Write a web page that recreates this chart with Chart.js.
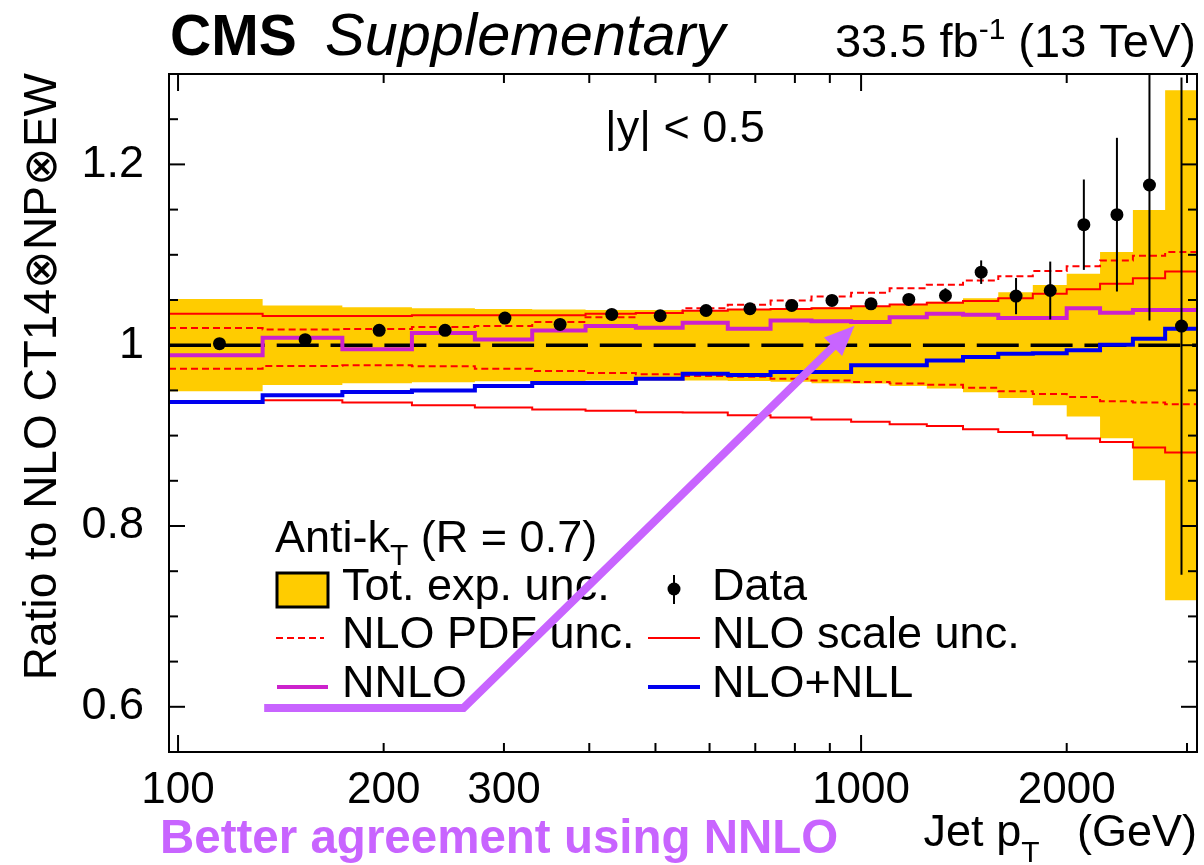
<!DOCTYPE html>
<html>
<head>
<meta charset="utf-8">
<title>Ratio to NLO CT14 - inclusive jets</title>
<script src="https://cdn.jsdelivr.net/npm/chart.js@4.4.1/dist/chart.umd.min.js"></script>
<style>
  html, body { margin: 0; padding: 0; background: #fff; }
  #wrap { width: 1204px; height: 865px; position: relative; }
</style>
</head>
<body>
<div id="wrap"><canvas id="ratioChart"></canvas></div>
<script>
// jet pT bins (GeV), one value per bin for every theory curve
var binEdges = [97, 133, 174, 220, 272, 330, 395, 468, 548, 638, 737, 846, 967, 1101, 1248, 1410, 1588, 1784, 2000, 2238, 2500, 2787, 3103];

var totExpUnc = [0.051, 0.044, 0.042, 0.041, 0.040, 0.0395, 0.039, 0.039, 0.039, 0.0395, 0.0405, 0.042, 0.0425, 0.045, 0.048, 0.052, 0.0585, 0.0665, 0.079, 0.103, 0.1495, 0.282];
var pdfUp = [1.019, 1.0175, 1.018, 1.020, 1.0212, 1.0256, 1.031, 1.0355, 1.041, 1.0447, 1.0495, 1.054, 1.058, 1.063, 1.067, 1.0715, 1.0764, 1.082, 1.0874, 1.0936, 1.099, 1.103];
var pdfDown = [0.974, 0.977, 0.9777, 0.9766, 0.974, 0.9715, 0.9693, 0.9678, 0.966, 0.965, 0.963, 0.961, 0.9594, 0.9575, 0.9562, 0.9528, 0.949, 0.946, 0.9428, 0.938, 0.9365, 0.9347];
var scaleUp = [1.0348, 1.0322, 1.0322, 1.033, 1.033, 1.033, 1.0348, 1.0355, 1.038, 1.0395, 1.040, 1.041, 1.043, 1.045, 1.047, 1.049, 1.052, 1.057, 1.062, 1.068, 1.074, 1.0815];
var scaleDown = [0.937, 0.939, 0.9365, 0.9336, 0.931, 0.9288, 0.9274, 0.9258, 0.9255, 0.9225, 0.920, 0.9178, 0.9152, 0.9126, 0.9106, 0.907, 0.904, 0.9005, 0.8968, 0.893, 0.8869, 0.8813];
var nnlo = [0.9888, 1.0083, 0.9954, 1.0136, 1.0064, 1.0163, 1.0212, 1.0192, 1.0248, 1.0182, 1.0274, 1.0265, 1.0256, 1.031, 1.0348, 1.0337, 1.030, 1.030, 1.041, 1.0359, 1.039, 1.039];
var nloNll = [0.9373, 0.9446, 0.9483, 0.950, 0.955, 0.9583, 0.9583, 0.963, 0.9685, 0.967, 0.9704, 0.9704, 0.9777, 0.9777, 0.9832, 0.987, 0.9906, 0.991, 0.9943, 1.0006, 1.0072, 1.0182];

// measured points
var dataPt = [115, 153.5, 197, 246, 301, 362.5, 431.5, 508, 593, 687.5, 791.5, 906.5, 1034, 1174.5, 1329, 1499, 1686, 1892, 2119, 2369, 2643.5, 2945];
var dataRatio = [1.0017, 1.0061, 1.0164, 1.0164, 1.030, 1.023, 1.034, 1.0326, 1.0384, 1.0403, 1.044, 1.0495, 1.0458, 1.0506, 1.055, 1.0808, 1.0543, 1.0605, 1.1333, 1.1444, 1.1772, 1.0212];
var dataErr = [0.002, 0.002, 0.002, 0.002, 0.002, 0.002, 0.002, 0.002, 0.003, 0.003, 0.003, 0.003, 0.004, 0.005, 0.008, 0.013, 0.020, 0.032, 0.050, 0.085, 0.150, 0.275];

// axes
var xTickValues = [100, 200, 300, 400, 500, 600, 700, 800, 900, 1000, 2000, 3000];
var xLabelValues = [100, 200, 300, 1000, 2000];
var xMajorValues = [100, 1000];
var yTickValues = [0.6, 0.8, 1, 1.2];

// annotation arrow (pT, ratio)
var arrowPt = [133.7, 261.8, 978];
var arrowRatio = [0.5988, 0.5988, 1.0215];

var FAMILY = "'Liberation Sans', Arial, Helvetica, sans-serif";
var YELLOW = '#ffcc00', RED = '#ff0000', MAGENTA = '#cc22cc', BLUE = '#0000ee', VIOLET = '#c864ff';

function stepPoints(vals) {
  var pts = vals.map(function (v, i) { return { x: binEdges[i], y: v }; });
  pts.push({ x: binEdges[binEdges.length - 1], y: vals[vals.length - 1] });
  return pts;
}

function richText(ctx, parts, x, y, align) {
  var w = 0;
  parts.forEach(function (p) { ctx.font = p.font; w += ctx.measureText(p.t).width; });
  var cx = align === 'right' ? x - w : x;
  ctx.textAlign = 'left';
  ctx.textBaseline = 'alphabetic';
  parts.forEach(function (p) {
    ctx.font = p.font;
    ctx.fillStyle = p.color || '#000';
    ctx.fillText(p.t, cx, y + (p.dy || 0));
    cx += ctx.measureText(p.t).width;
  });
}

function seg(ctx, x1, y1, x2, y2) {
  ctx.beginPath();
  ctx.moveTo(x1, y1);
  ctx.lineTo(x2, y2);
  ctx.stroke();
}

var f45 = '45px ' + FAMILY, f30 = '30px ' + FAMILY;

var rootStyle = {
  id: 'rootStyle',
  afterDatasetsDraw: function (chart) {
    var ctx = chart.ctx, xs = chart.scales.x, ys = chart.scales.y, a = chart.chartArea;
    ctx.save();
    // error bars on the data
    ctx.beginPath();
    ctx.rect(a.left, a.top, a.right - a.left, a.bottom - a.top);
    ctx.clip();
    ctx.strokeStyle = '#000';
    ctx.lineWidth = 2;
    dataPt.forEach(function (pt, i) {
      var px = xs.getPixelForValue(pt);
      seg(ctx, px, ys.getPixelForValue(dataRatio[i] - dataErr[i]), px, ys.getPixelForValue(dataRatio[i] + dataErr[i]));
    });
    ctx.restore();

    // frame with inward ticks on all sides
    ctx.save();
    ctx.strokeStyle = '#000';
    ctx.lineWidth = 2;
    ctx.strokeRect(a.left, a.top, a.right - a.left, a.bottom - a.top);
    xTickValues.forEach(function (v) {
      var px = xs.getPixelForValue(v);
      var len = xMajorValues.indexOf(v) >= 0 ? 17 : 9;
      seg(ctx, px, a.bottom, px, a.bottom - len);
      seg(ctx, px, a.top, px, a.top + len);
    });
    for (var k = 0; k <= 15; k++) {
      var v = Math.round((0.55 + 0.05 * k) * 100) / 100;
      var py = ys.getPixelForValue(v);
      var len = yTickValues.indexOf(v) >= 0 ? 16 : 9;
      seg(ctx, a.left, py, a.left + len, py);
      seg(ctx, a.right, py, a.right - len, py);
    }
    ctx.restore();
  },
  afterDraw: function (chart) {
    var ctx = chart.ctx, xs = chart.scales.x, ys = chart.scales.y;
    ctx.save();

    // header
    richText(ctx, [{ t: 'CMS', font: 'bold 57px ' + FAMILY }], 170, 55);
    richText(ctx, [{ t: 'Supplementary', font: 'italic 59.5px ' + FAMILY }], 325, 55);
    richText(ctx, [
      { t: '33.5 fb', font: '47px ' + FAMILY },
      { t: '-1', font: f30, dy: -18 },
      { t: ' (13 TeV)', font: '47px ' + FAMILY }
    ], 1196, 57, 'right');
    richText(ctx, [{ t: '|y| < 0.5', font: f45 }], 605, 142);

    // axis titles
    ctx.save();
    ctx.translate(56, 73);
    ctx.rotate(-Math.PI / 2);
    ctx.font = '46px ' + FAMILY;
    ctx.fillStyle = '#000';
    ctx.textAlign = 'right';
    ctx.textBaseline = 'alphabetic';
    ctx.fillText('Ratio to NLO CT14\u2297NP\u2297EW', 0, 0);
    ctx.restore();
    richText(ctx, [
      { t: 'Jet p', font: f45 },
      { t: 'T', font: f30, dy: 16 },
      { t: '   (GeV)', font: f45 }
    ], 1197, 846, 'right');

    // legend
    richText(ctx, [
      { t: 'Anti-k', font: f45 },
      { t: 'T', font: f30, dy: 13 },
      { t: ' (R = 0.7)', font: f45 }
    ], 275, 552);
    ctx.fillStyle = YELLOW;
    ctx.fillRect(277, 573, 51, 34);
    ctx.strokeStyle = '#000';
    ctx.lineWidth = 3;
    ctx.strokeRect(277, 573, 51, 34);
    ctx.lineWidth = 2;
    ctx.strokeStyle = RED;
    ctx.setLineDash([7, 4]);
    seg(ctx, 276, 638, 324, 638);
    ctx.setLineDash([]);
    seg(ctx, 648, 638, 700, 638);
    ctx.lineWidth = 4;
    ctx.strokeStyle = MAGENTA;
    seg(ctx, 277, 687, 328, 687);
    ctx.strokeStyle = BLUE;
    seg(ctx, 648, 687, 700, 687);
    ctx.strokeStyle = '#000';
    ctx.lineWidth = 2;
    seg(ctx, 674, 575, 674, 604);
    ctx.fillStyle = '#000';
    ctx.beginPath();
    ctx.arc(674, 589, 6.5, 0, Math.PI * 2);
    ctx.fill();
    richText(ctx, [{ t: 'Tot. exp. unc.', font: f45 }], 342, 600);
    richText(ctx, [{ t: 'NLO PDF unc.', font: f45 }], 342, 648);
    richText(ctx, [{ t: 'NNLO', font: f45 }], 342, 697);
    richText(ctx, [{ t: 'Data', font: f45 }], 712, 600);
    richText(ctx, [{ t: 'NLO scale unc.', font: f45 }], 712, 648);
    richText(ctx, [{ t: 'NLO+NLL', font: f45 }], 712, 697);

    // highlight arrow and caption
    var ax = arrowPt.map(function (v) { return xs.getPixelForValue(v); });
    var ay = arrowRatio.map(function (v) { return ys.getPixelForValue(v); });
    var n = ax.length - 1;
    var dx = ax[n] - ax[n - 1], dy = ay[n] - ay[n - 1];
    var L = Math.sqrt(dx * dx + dy * dy), ux = dx / L, uy = dy / L;
    var headLen = 30, headW = 13;
    ctx.strokeStyle = VIOLET;
    ctx.fillStyle = VIOLET;
    ctx.lineWidth = 8;
    ctx.lineJoin = 'miter';
    ctx.beginPath();
    ctx.moveTo(ax[0], ay[0]);
    for (var i = 1; i < n; i++) ctx.lineTo(ax[i], ay[i]);
    ctx.lineTo(ax[n] - ux * headLen * 0.8, ay[n] - uy * headLen * 0.8);
    ctx.stroke();
    ctx.beginPath();
    ctx.moveTo(ax[n], ay[n]);
    ctx.lineTo(ax[n] - ux * headLen - uy * headW, ay[n] - uy * headLen + ux * headW);
    ctx.lineTo(ax[n] - ux * headLen + uy * headW, ay[n] - uy * headLen - ux * headW);
    ctx.closePath();
    ctx.fill();
    richText(ctx, [{ t: 'Better agreement using NNLO', font: 'bold 47.5px ' + FAMILY, color: VIOLET }], 160, 853);

    ctx.restore();
  }
};

var bandUp = totExpUnc.map(function (u) { return 1 + u; });
var bandDown = totExpUnc.map(function (u) { return 1 - u; });
var NONE = 'rgba(0,0,0,0)';

function stepLine(label, vals, color, width, dash, order) {
  return {
    label: label,
    data: stepPoints(vals),
    borderColor: color,
    borderWidth: width,
    borderDash: dash || [],
    stepped: 'before',
    pointRadius: 0,
    fill: false,
    order: order
  };
}

new Chart(document.getElementById('ratioChart'), {
  type: 'line',
  data: {
    datasets: [
      {
        label: 'Data',
        type: 'scatter',
        data: dataPt.map(function (x, i) { return { x: x, y: dataRatio[i] }; }),
        pointRadius: 6.5,
        pointBackgroundColor: '#000',
        pointBorderWidth: 0,
        showLine: false,
        order: 0
      },
      stepLine('NLO+NLL', nloNll, BLUE, 4, null, 1),
      stepLine('NNLO', nnlo, MAGENTA, 4, null, 2),
      {
        label: 'NLO',
        data: [{ x: binEdges[0], y: 1 }, { x: binEdges[binEdges.length - 1], y: 1 }],
        borderColor: '#000',
        borderWidth: 3.5,
        borderDash: [42, 11.85],
        pointRadius: 0,
        fill: false,
        order: 3
      },
      stepLine('NLO scale unc.', scaleUp, RED, 2, null, 4),
      stepLine('NLO scale unc. (down)', scaleDown, RED, 2, null, 4),
      stepLine('NLO PDF unc.', pdfUp, RED, 2, [7, 4], 5),
      stepLine('NLO PDF unc. (down)', pdfDown, RED, 2, [7, 4], 5),
      {
        label: 'Tot. exp. unc.',
        data: stepPoints(bandUp),
        stepped: 'before',
        borderColor: NONE,
        borderWidth: 1,
        backgroundColor: YELLOW,
        pointRadius: 0,
        fill: '+1',
        order: 6
      },
      {
        label: 'Tot. exp. unc. (down)',
        data: stepPoints(bandDown),
        stepped: 'before',
        borderColor: NONE,
        borderWidth: 1,
        pointRadius: 0,
        fill: false,
        order: 6
      }
    ]
  },
  options: {
    responsive: true,
    maintainAspectRatio: false,
    animation: false,
    events: [],
    layout: { padding: { top: 74, right: 7, bottom: 0, left: 0 } },
    plugins: { legend: { display: false }, tooltip: { enabled: false } },
    scales: {
      x: {
        type: 'logarithmic',
        min: 97,
        max: 3103,
        grid: { display: false },
        border: { display: false },
        afterBuildTicks: function (s) { s.ticks = xTickValues.map(function (v) { return { value: v }; }); },
        afterFit: function (s) { s.height = 113; },
        ticks: {
          autoSkip: false,
          maxRotation: 0,
          minRotation: 0,
          padding: 4,
          color: '#000',
          font: { family: FAMILY, size: 44 },
          callback: function (v) { return xLabelValues.indexOf(v) >= 0 ? String(v) : ''; }
        }
      },
      y: {
        type: 'linear',
        min: 0.55,
        max: 1.3,
        grid: { display: false },
        border: { display: false },
        afterBuildTicks: function (s) { s.ticks = yTickValues.map(function (v) { return { value: v }; }); },
        afterFit: function (s) { s.width = 169; },
        ticks: {
          padding: 17,
          color: '#000',
          font: { family: FAMILY, size: 45 },
          callback: function (v) { return String(v); }
        }
      }
    }
  },
  plugins: [rootStyle]
});
</script>
</body>
</html>
